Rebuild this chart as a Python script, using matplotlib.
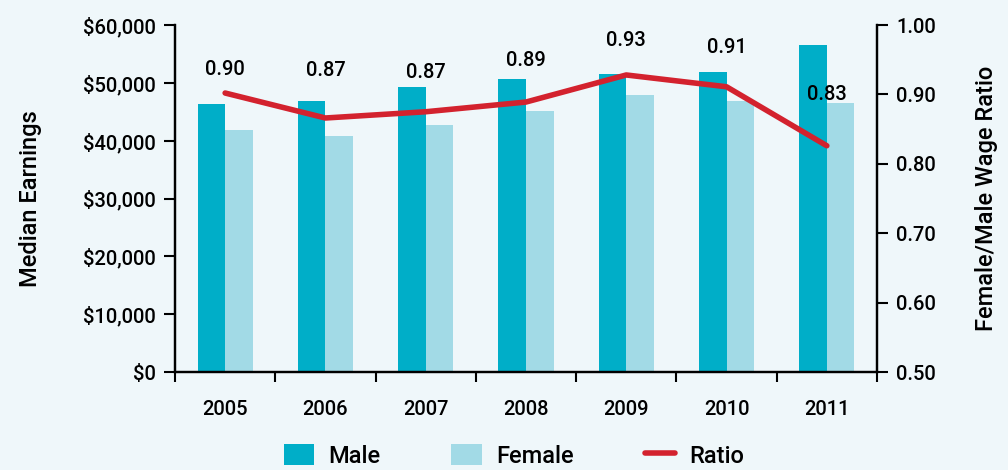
"""Median earnings by sex with female/male wage ratio, 2005-2011."""

import matplotlib

matplotlib.use("Agg")
import matplotlib.pyplot as plt
import numpy as np
from matplotlib.ticker import FuncFormatter

years = ["2005", "2006", "2007", "2008", "2009", "2010", "2011"]
male = [46300, 46800, 49300, 50700, 51500, 51900, 56500]
female = [41800, 40800, 42700, 45100, 47900, 46900, 46500]
ratio = [0.902, 0.866, 0.875, 0.889, 0.928, 0.911, 0.826]
ratio_labels = ["0.90", "0.87", "0.87", "0.89", "0.93", "0.91", "0.83"]

# label offsets above the line (points), as placed in the original
label_dy = [17, 34, 28, 30, 25, 28, 37]

BG = "#EFF7FA"
MALE_C = "#00AEC8"
FEMALE_C = "#A2DAE6"
RED = "#D3222E"

plt.rcParams["font.family"] = ["Roboto", "DejaVu Sans"]
plt.rcParams["font.weight"] = "medium"
plt.rcParams["axes.labelweight"] = "medium"
plt.rcParams["font.size"] = 14.5

fig = plt.figure(figsize=(10.08, 4.70), dpi=100, facecolor=BG)
ax = fig.add_axes([0.1736, 0.2085, 0.6964, 0.7383], facecolor=BG)
ax2 = ax.twinx()

x = np.arange(len(years))
w = 0.275
ax.bar(x - w / 2, male, w, color=MALE_C, label="Male")
ax.bar(x + w / 2, female, w, color=FEMALE_C, label="Female")
ax2.plot(x, ratio, color=RED, lw=4, solid_capstyle="round", label="Ratio")
for xi, r, lab, dy in zip(x, ratio, ratio_labels, label_dy):
    ax2.annotate(lab, (xi, r), xytext=(0, dy), textcoords="offset points",
                 ha="center", va="center", fontsize=14.5)

ax.set_xlim(-0.5, len(years) - 0.5)
ax.set_ylim(0, 60000)
ax2.set_ylim(0.5, 1.0)
ax.set_yticks(range(0, 60001, 10000))
ax.yaxis.set_major_formatter(FuncFormatter(lambda v, _: f"${v:,.0f}"))
ax2.set_yticks(np.arange(0.5, 1.01, 0.1))
ax2.yaxis.set_major_formatter(FuncFormatter(lambda v, _: f"{v:.2f}"))

ax.set_xticks(x)
ax.set_xticklabels(years)
ax.set_xticks(np.arange(-0.5, len(years), 1), minor=True)
ax.tick_params(axis="x", which="major", length=0, pad=20)
ax.tick_params(axis="x", which="minor", length=7, width=1.5)
ax.tick_params(axis="y", length=8, width=1.5, pad=6)
ax2.tick_params(axis="y", length=8, width=1.5, pad=6)

for a in (ax, ax2):
    a.spines["top"].set_visible(False)
    for s in ("left", "right", "bottom"):
        a.spines[s].set_linewidth(1.6)

ax.set_ylabel("Median Earnings", fontsize=17, labelpad=29)
ax2.set_ylabel("Female/Male Wage Ratio", fontsize=17, labelpad=28)

h1, l1 = ax.get_legend_handles_labels()
h2, l2 = ax2.get_legend_handles_labels()
fig.legend(h1 + h2, l1 + l2, loc="center", bbox_to_anchor=(0.51, 0.03),
           ncol=3, frameon=False, fontsize=17, handlelength=1.3,
           handleheight=1.0, columnspacing=3.0, handletextpad=0.6)

fig.savefig("out.png", dpi=100, facecolor=BG)
